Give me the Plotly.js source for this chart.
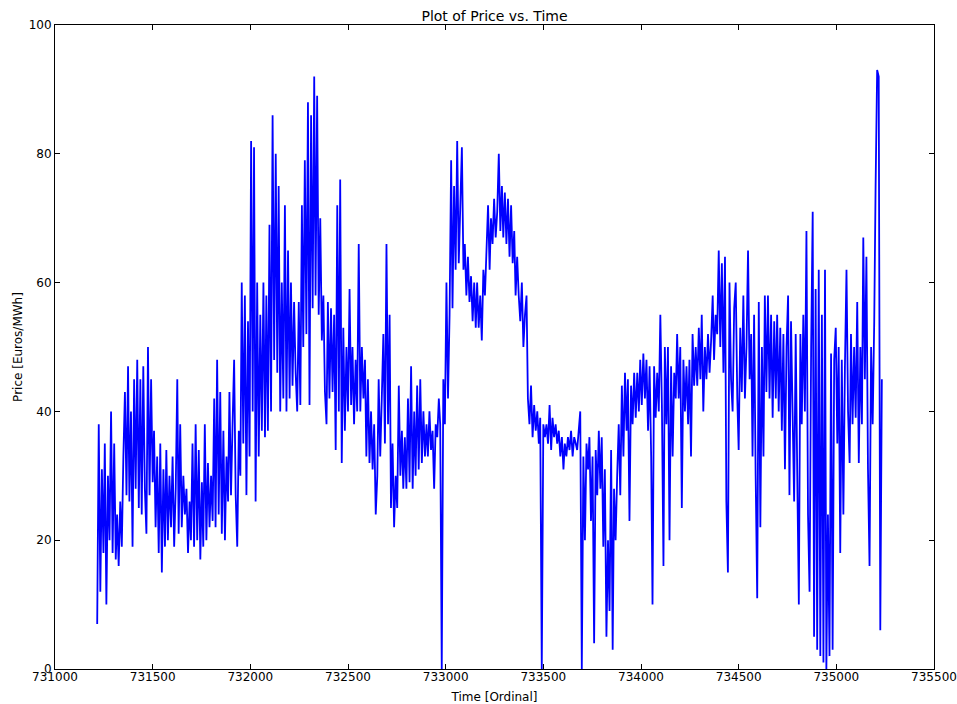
<!DOCTYPE html>
<html>
<head>
<meta charset="utf-8">
<script src="https://cdn.plot.ly/plotly-3.0.1.min.js"></script>
<style>
  html, body { margin: 0; padding: 0; background: #ffffff; }
  #chart { width: 957px; height: 704px; }
</style>
</head>
<body>
<div id="chart"></div>
<script>
// Daily electricity price, sampled evenly over the ordinal-day span.
const firstDay = 731216;
const lastDay = 735233;

// Price readings in Euros/MWh, in time order, split into consecutive stretches.
const priceA = [
  7, 38, 12, 31, 18, 35,
  10, 30, 20, 40, 18, 35, 17,
  24, 16, 26, 19, 33, 43,
  27, 47, 26, 40, 19, 45, 28,
  48, 25, 45, 24, 47, 28,
  21, 50, 27, 45, 29, 37, 22,
  33, 18, 35, 15, 31, 19,
  34, 20, 30, 22, 33, 19, 28,
  45, 21, 38, 22, 30, 24,
  28, 18, 26, 20, 35, 19, 38,
  20, 34, 17, 29, 19, 38,
  20, 32, 22, 30, 23, 42, 22,
  48, 24, 43, 21, 37, 20
];
const priceB = [
  33, 26, 43, 27, 38, 48, 27,
  19, 37, 30, 60, 35, 58,
  27, 54, 33, 82, 40, 81, 26,
  60, 33, 55, 37, 60, 36,
  58, 37, 69, 40, 86, 48, 80,
  46, 75, 40, 60, 42, 72,
  40, 65, 42, 60, 44, 57, 46,
  40, 57, 41, 72, 50, 79,
  52, 88, 41, 86, 56, 92, 58,
  89, 55, 70, 51, 58, 43,
  38, 57, 42, 56, 43, 55, 34,
  72, 40, 76, 32, 53, 37,
  50, 40, 59, 41, 50, 38, 48
];
const priceC = [
  40, 66, 40, 50, 42, 48,
  33, 45, 32, 40, 31, 38, 24,
  30, 45, 33, 42, 52, 35,
  66, 38, 55, 25, 35, 22, 30,
  25, 44, 30, 37, 28, 36,
  28, 42, 29, 47, 28, 40, 30,
  44, 31, 45, 32, 40, 33,
  38, 33, 40, 34, 37, 28, 38,
  36, 42, 38, 0, 45, 38,
  60, 42, 55, 79, 56, 75, 62,
  82, 63, 72, 81, 62, 66,
  58, 64, 57, 61, 54, 60, 53,
  60, 53, 58, 51, 62, 58
];
const priceD = [
  65, 72, 62, 70, 66, 73, 67,
  71, 80, 68, 75, 67, 74,
  66, 73, 64, 72, 63, 68, 58,
  64, 58, 54, 60, 50, 55,
  58, 42, 38, 44, 36, 41, 37,
  40, 35, 39, 0, 38, 36,
  38, 35, 41, 34, 39, 36, 38,
  35, 37, 33, 36, 31, 35,
  33, 36, 34, 37, 33, 36, 35,
  34, 37, 40, 0, 33, 20,
  35, 31, 36, 23, 33, 4, 34,
  27, 37, 28, 36, 19, 31,
  5, 20, 9, 34, 3, 28, 20
];
const priceE = [
  30, 38, 27, 44, 33, 46,
  37, 45, 23, 44, 38, 46, 39,
  46, 40, 48, 41, 49, 42,
  48, 37, 47, 33, 10, 47, 39,
  46, 40, 55, 41, 16, 50,
  38, 50, 20, 47, 33, 46, 42,
  52, 42, 50, 25, 48, 40,
  47, 38, 48, 33, 52, 44, 50,
  44, 53, 45, 55, 40, 50,
  45, 52, 46, 51, 58, 48, 55,
  52, 65, 50, 63, 46, 64,
  26, 15, 60, 45, 40, 56, 60,
  42, 34, 53, 43, 58, 42
];
const priceF = [
  50, 65, 45, 52, 33, 55, 30,
  11, 57, 22, 50, 33, 58,
  43, 58, 42, 55, 39, 54, 42,
  55, 40, 53, 37, 52, 31,
  50, 58, 27, 54, 40, 26, 52,
  30, 10, 52, 38, 55, 40,
  68, 24, 12, 50, 71, 5, 59,
  3, 62, 2, 55, 1, 62,
  0, 24, 2, 49, 3, 48, 53,
  35, 50, 18, 48, 24, 47,
  62, 40, 32, 52, 38, 50, 39,
  57, 32, 50, 38, 67, 45,
  64, 31, 16, 50, 38, 54, 75,
  93, 92, 6, 45
];

// Axis tick settings
const xTicks = [731000, 731500, 732000, 732500, 733000, 733500, 734000, 734500, 735000, 735500];
const yTicks = [0, 20, 40, 60, 80, 100];

const price = [].concat(priceA, priceB, priceC, priceD, priceE, priceF);
const stepDays = (lastDay - firstDay) / (price.length - 1);
const days = price.map((_, i) => Math.round(firstDay + i * stepDays));

const font = 'DejaVu Sans, Liberation Sans, sans-serif';

const trace = {
  type: 'scatter',
  mode: 'lines',
  x: days,
  y: price,
  line: { color: '#0000ff', width: 1.8, simplify: false },
  hoverinfo: 'x+y'
};

const axisCommon = {
  showline: true,
  linecolor: '#000000',
  linewidth: 1,
  mirror: 'ticks',
  ticks: 'inside',
  ticklen: 5,
  tickwidth: 1,
  tickcolor: '#000000',
  showgrid: false,
  zeroline: false,
  tickfont: { family: font, size: 12, color: '#000000' }
};

const layout = {
  width: 957,
  height: 704,
  paper_bgcolor: '#ffffff',
  plot_bgcolor: '#ffffff',
  margin: { l: 55, r: 23, t: 25, b: 35 },
  showlegend: false,
  title: {
    text: 'Plot of Price vs. Time',
    font: { family: font, size: 14, color: '#000000' },
    x: 0.5, xref: 'paper', xanchor: 'center',
    y: 1 - 16 / 704, yref: 'container', yanchor: 'middle'
  },
  xaxis: Object.assign({}, axisCommon, {
    range: [731000, 735500],
    tickvals: xTicks,
    ticktext: xTicks.map(String),
    ticklabelstandoff: -3,
    title: { text: 'Time [Ordinal]', font: { family: font, size: 12, color: '#000000' }, standoff: 10 },
    automargin: false
  }),
  yaxis: Object.assign({}, axisCommon, {
    range: [0, 100],
    tickvals: yTicks,
    ticktext: yTicks.map(String),
    title: { text: 'Price [Euros/MWh]', font: { family: font, size: 12, color: '#000000' }, standoff: 3 },
    automargin: false
  })
};

Plotly.newPlot('chart', [trace], layout, { displayModeBar: false, staticPlot: true });
</script>
</body>
</html>
